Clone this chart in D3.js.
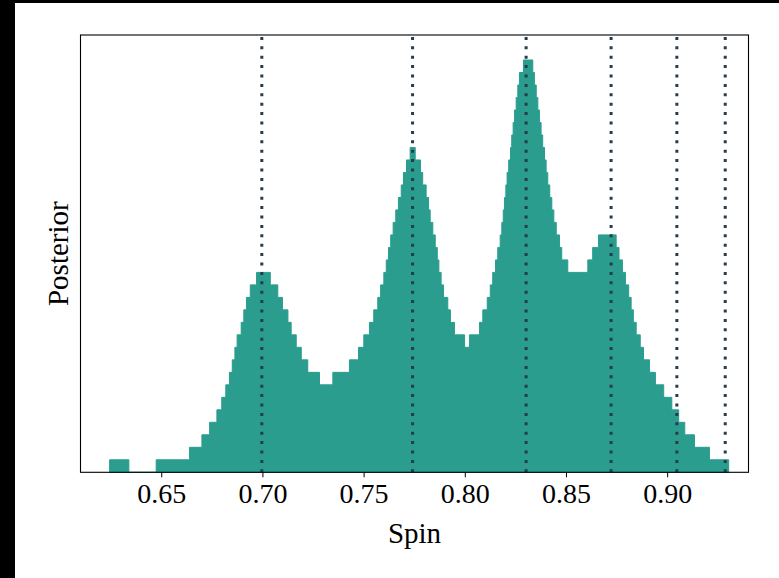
<!DOCTYPE html>
<html>
<head>
<meta charset="utf-8">
<script src="https://cdn.jsdelivr.net/npm/d3@7"></script>
<style>
  html, body { margin: 0; padding: 0; background: #fff; }
  svg { display: block; }
</style>
</head>
<body>
<svg id="chart" width="779" height="578"></svg>
<script>
// ---- data ----
const binEdges = [0.6245,0.6340,0.6475,0.6640,0.6701,0.6739,0.6775,0.6799,0.6819,0.6837,0.6851,0.6864,0.6875,0.6895,0.6908,0.6921,0.6940,0.6971,0.7039,0.7076,0.7099,0.7126,0.7142,0.7167,0.7192,0.7224,0.7282,0.7348,0.7430,0.7475,0.7501,0.7529,0.7550,0.7570,0.7584,0.7600,0.7612,0.7623,0.7634,0.7646,0.7659,0.7672,0.7686,0.7697,0.7712,0.7730,0.7755,0.7781,0.7792,0.7809,0.7821,0.7829,0.7842,0.7854,0.7864,0.7872,0.7883,0.7895,0.7916,0.7929,0.7949,0.7999,0.8023,0.8073,0.8089,0.8111,0.8126,0.8138,0.8152,0.8163,0.8175,0.8183,0.8190,0.8196,0.8203,0.8209,0.8217,0.8226,0.8232,0.8239,0.8246,0.8254,0.8262,0.8270,0.8290,0.8336,0.8344,0.8353,0.8361,0.8369,0.8377,0.8385,0.8394,0.8402,0.8410,0.8420,0.8430,0.8440,0.8452,0.8468,0.8479,0.8509,0.8608,0.8632,0.8661,0.8748,0.8762,0.8779,0.8794,0.8810,0.8822,0.8833,0.8847,0.8867,0.8883,0.8913,0.8942,0.8983,0.9023,0.9057,0.9087,0.9135,0.9209,0.9304];
const binCounts = [1,0,1,2,3,4,5,6,7,8,9,10,11,12,13,14,15,16,15,14,13,12,11,10,9,8,7,8,9,10,11,12,13,14,15,16,17,18,19,20,21,22,23,24,25,26,25,24,23,22,21,20,19,18,17,16,15,14,13,12,11,10,11,12,13,14,15,16,17,18,19,20,21,22,23,24,25,26,27,28,29,30,31,32,33,32,31,30,29,28,27,26,25,24,23,22,21,20,19,18,17,16,17,18,19,18,17,16,15,14,13,12,11,10,9,8,7,6,5,4,3,2,1];
const markerSpins = [0.6997, 0.7742, 0.8303, 0.8723, 0.9048, 0.9287];
const xTicks = [0.65, 0.70, 0.75, 0.80, 0.85, 0.90];
const xLabel = "Spin";
const yLabel = "Posterior";

// ---- layout ----
const svg = d3.select("#chart");
const plot = { left: 80.5, right: 748.5, top: 35, bottom: 472.3 };

// black strips of the original frame
svg.append("rect").attr("x", 0).attr("y", 0).attr("width", 779).attr("height", 3).attr("fill", "#000");
svg.append("rect").attr("x", 0).attr("y", 0).attr("width", 15).attr("height", 578).attr("fill", "#000");

const x = d3.scaleLinear().domain([0.6101, 0.9402]).range([plot.left, plot.right]);
const y = d3.scaleLinear().domain([0, 35]).range([plot.bottom, plot.top]);

const stepData = binCounts.map((c, i) => ({ x: binEdges[i], c: c }));
stepData.push({ x: binEdges[binEdges.length - 1], c: binCounts[binCounts.length - 1] });

const area = d3.area()
  .curve(d3.curveStepAfter)
  .x(d => x(d.x))
  .y0(y(0))
  .y1(d => y(d.c));

svg.append("path")
  .datum(stepData)
  .attr("d", area)
  .attr("fill", "#2a9d8f")
  .attr("stroke", "#2a9d8f")
  .attr("stroke-width", 1);

// dotted marker lines
svg.append("g").selectAll("line")
  .data(markerSpins)
  .join("line")
  .attr("x1", d => x(d)).attr("x2", d => x(d))
  .attr("y1", plot.bottom).attr("y2", plot.top)
  .attr("stroke", "#253c4c")
  .attr("stroke-width", 3)
  .attr("stroke-dasharray", "3,6.4");

// frame
svg.append("rect")
  .attr("x", plot.left).attr("y", plot.top)
  .attr("width", plot.right - plot.left).attr("height", plot.bottom - plot.top)
  .attr("fill", "none").attr("stroke", "#000").attr("stroke-width", 1.1);

// x axis
const xAxis = d3.axisBottom(x).tickValues(xTicks).tickFormat(d3.format(".2f")).tickSize(5).tickPadding(6);
const gx = svg.append("g").attr("transform", `translate(0,${plot.bottom})`).call(xAxis);
gx.select(".domain").remove();
gx.selectAll(".tick line").attr("stroke", "#000").attr("stroke-width", 1);
gx.selectAll(".tick text")
  .attr("fill", "#000")
  .attr("font-family", "'Liberation Serif', 'DejaVu Serif', serif")
  .attr("font-size", 28)
  .attr("dy", "0.71em");

svg.append("text")
  .attr("x", (plot.left + plot.right) / 2)
  .attr("y", 543)
  .attr("text-anchor", "middle")
  .attr("font-family", "'Liberation Serif', 'DejaVu Serif', serif")
  .attr("font-size", 29)
  .attr("fill", "#000")
  .text(xLabel);

svg.append("text")
  .attr("transform", `translate(68,${(plot.top + plot.bottom) / 2}) rotate(-90)`)
  .attr("text-anchor", "middle")
  .attr("font-family", "'Liberation Serif', 'DejaVu Serif', serif")
  .attr("font-size", 29)
  .attr("fill", "#000")
  .text(yLabel);
</script>
</body>
</html>
